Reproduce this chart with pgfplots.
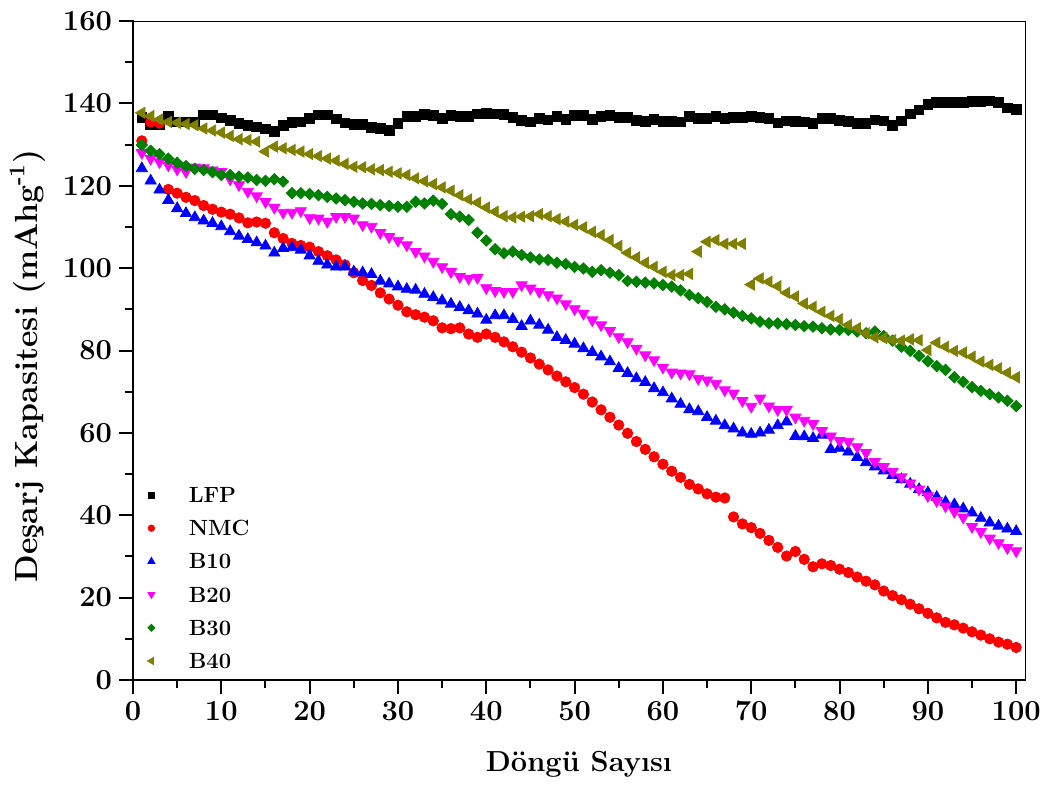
\documentclass[border=0pt]{standalone}
\usepackage{fontspec}
\usepackage{pgfplots}
\usepackage{pgfplotstable}
\pgfplotsset{compat=1.18}

\definecolor{cgreen}{RGB}{0,128,0}
\definecolor{colive}{RGB}{128,128,0}
\definecolor{cmag}{RGB}{255,0,255}
\definecolor{cred}{RGB}{255,0,0}
\definecolor{cblue}{RGB}{0,0,255}

% discharge capacity vs cycle number
\pgfplotstableread{
x   lfp   nmc   b10   b20   b30   b40
1   136.6 130.9 124.2 128.0 129.9 137.7
2   134.9 135.5 121.2 126.6 128.5 136.9
3   134.9 135.2 119.0 125.8 127.7 136.1
4   136.8 119.1 116.5 125.0 126.6 135.5
5   135.5 118.2 114.5 124.0 125.6 135.3
6   135.5 117.2 113.3 123.4 124.8 135.0
7   135.5 116.4 112.3 124.5 124.1 134.7
8   137.2 115.2 111.5 124.3 123.8 133.9
9   137.2 114.3 110.9 123.8 123.3 133.4
10  136.5 113.6 110.1 123.4 122.6 132.9
11  135.8 113.1 108.9 121.6 122.6 132.1
12  135.1 112.2 107.8 120.2 122.2 131.3
13  134.7 111.0 107.0 118.6 122.0 131.1
14  134.3 111.2 106.2 117.5 121.4 130.7
15  133.8 110.9 105.4 116.1 121.2 128.3
16  133.2 108.6 103.7 114.7 121.6 129.5
17  134.7 107.2 104.8 113.5 121.0 129.1
18  135.4 106.0 105.0 113.5 118.2 128.7
19  135.5 105.5 104.4 113.9 118.2 128.3
20  136.3 105.1 103.0 112.2 118.0 127.7
21  137.2 104.0 101.7 112.1 117.7 127.2
22  137.2 103.0 100.8 111.3 117.3 126.6
23  136.2 102.0 100.3 112.5 116.9 126.1
24  135.3 100.8 100.3 112.5 116.5 125.3
25  134.9 98.9  99.1  112.1 116.1 124.6
26  134.9 97.0  98.9  110.5 115.7 124.5
27  134.2 95.8  98.5  110.1 115.6 124.0
28  133.9 94.0  96.9  108.6 115.3 123.8
29  133.5 92.5  96.2  107.6 115.1 123.4
30  135.1 91.0  95.5  106.7 114.9 123.0
31  136.8 89.4  94.9  105.6 114.9 122.6
32  136.8 88.7  94.7  104.0 116.1 121.8
33  137.3 88.1  93.7  102.9 115.7 121.1
34  137.1 87.2  92.9  101.6 116.4 120.4
35  136.3 85.5  92.1  100.3 115.6 119.6
36  137.1 85.3  91.3  99.1  113.1 118.8
37  136.8 85.5  90.5  97.9  112.5 117.7
38  136.8 84.0  89.7  97.5  111.7 116.7
39  137.4 83.2  88.9  97.7  108.6 115.9
40  137.6 84.0  87.4  95.2  106.7 114.7
41  137.4 83.2  88.5  94.5  104.6 113.7
42  137.3 82.1  88.5  94.3  103.6 112.6
43  136.6 80.9  87.6  94.3  104.0 112.3
44  135.8 79.6  85.9  95.9  103.2 112.5
45  135.5 78.2  87.2  95.1  102.6 112.6
46  136.3 76.7  86.2  94.3  102.1 113.1
47  136.0 75.3  85.0  93.5  102.0 112.6
48  136.8 73.8  83.2  92.7  101.3 111.9
49  136.1 72.4  82.5  91.3  101.0 111.3
50  137.1 71.0  81.6  90.1  100.3 110.5
51  137.1 69.4  80.5  89.0  99.9  109.9
52  136.1 67.5  79.6  87.4  99.1  108.8
53  136.8 65.6  78.5  86.2  99.5  108.0
54  137.1 63.8  77.3  84.8  98.9  106.8
55  136.6 61.9  75.7  83.3  98.3  105.4
56  136.6 59.9  74.5  82.1  96.9  103.7
57  135.8 57.9  73.2  80.5  96.7  102.6
58  135.6 56.0  72.3  78.9  96.5  101.3
59  136.1 54.2  70.8  77.7  96.3  100.3
60  135.6 52.4  69.8  75.9  95.9  99.1
61  135.6 50.7  68.3  74.7  95.5  98.3
62  135.5 49.2  67.0  74.5  94.6  98.3
63  136.8 47.5  65.7  74.3  93.5  98.6
64  136.4 46.4  65.2  73.2  92.7  104.0
65  136.4 45.2  63.8  72.8  91.8  106.4
66  136.8 44.4  62.9  72.0  90.6  106.8
67  136.3 44.2  61.8  70.4  90.0  105.9
68  136.6 39.6  61.0  69.6  89.2  105.9
69  136.6 37.9  60.0  67.8  88.4  105.9
70  136.9 37.0  59.7  66.4  87.8  96.0
71  136.6 35.6  60.0  68.4  87.0  97.5
72  136.3 33.9  60.7  66.5  86.6  96.7
73  135.3 32.2  61.8  65.6  86.6  95.6
74  135.7 30.1  62.7  65.6  86.4  94.0
75  135.6 31.2  59.2  63.8  86.2  93.1
76  135.5 29.3  59.1  63.0  85.9  91.4
77  135.2 27.5  58.7  62.2  85.8  90.6
78  136.3 28.2  59.5  60.5  85.4  89.4
79  136.3 27.8  56.0  59.2  85.1  88.4
80  135.8 26.9  56.3  58.1  85.0  87.6
81  135.6 26.1  55.4  57.9  85.0  86.2
82  135.2 25.0  54.1  56.6  84.6  85.4
83  135.2 24.0  52.8  55.2  84.2  84.2
84  136.0 23.1  51.8  53.0  84.6  83.2
85  135.7 21.6  50.8  51.8  83.5  83.0
86  134.7 20.5  49.7  50.6  82.4  82.5
87  135.7 19.5  48.7  49.3  80.9  82.4
88  137.4 18.4  47.6  47.8  79.9  82.7
89  138.4 17.3  46.3  46.3  78.7  82.5
90  139.8 16.2  45.5  44.7  77.4  80.1
91  140.2 15.1  44.4  43.5  76.2  81.9
92  140.3 14.0  43.2  42.2  75.3  80.9
93  140.3 13.4  42.6  40.9  73.5  79.9
94  140.3 12.6  41.6  39.5  72.4  79.5
95  140.5 11.7  40.6  37.2  71.1  78.5
96  140.5 10.9  39.3  36.0  70.2  77.3
97  140.6 10.0  38.2  34.4  69.4  76.5
98  140.2 9.2   37.4  33.3  68.6  75.7
99  138.9 8.7   36.7  32.1  67.8  74.6
100 138.5 7.9   36.1  31.3  66.5  73.5
}\capdata

\begin{document}
\begin{tikzpicture}
\path[use as bounding box] (-66.5pt,-52pt) rectangle (455pt,340pt);
\begin{axis}[
    at={(0pt,0pt)}, anchor=south west,
    scale only axis,
    width=446pt, height=329.5pt,
    xmin=0, xmax=101,
    ymin=0, ymax=160,
    xtick={0,10,...,100},
    ytick={0,20,...,160},
    minor tick num=1,
    tick align=outside,
    xtick pos=left, ytick pos=left,
    major tick length=7pt, minor tick length=4pt,
    tick style={black, line width=1pt},
    axis line style={line width=0.5pt},
    /pgf/number format/assume math mode=true,
    tick label style={font=\bfseries\fontsize{14.5}{17}\selectfont},
    xlabel={Döngü Sayısı},
    ylabel={Deşarj Kapasitesi (mAhg\textsuperscript{-1})},
    xlabel style={at={(rel axis cs:0.5,-0.1381)}, anchor=base,
        font=\bfseries\fontsize{14.5}{17}\selectfont},
    ylabel style={at={(rel axis cs:-0.1076,0.4765)}, anchor=base,
        font=\bfseries\fontsize{16}{19}\selectfont},
    legend style={draw=none, fill=none, inner sep=0pt, outer sep=0pt,
        at={(0.0112,0.2923)}, anchor=north west,
        font=\bfseries\fontsize{11}{13}\selectfont,
        row sep=9pt, column sep=14.5pt,
        nodes={inner sep=0pt, text height=7.6pt, text depth=0pt}},
    legend cell align=left,
    legend image code/.code={
        \path (-4pt,0pt) (4pt,0pt);
        \draw[#1, every mark/.append style={scale=0.62}] plot coordinates {(0pt,0pt)};
    },
    after end axis/.code={
        \draw[line width=1pt, line cap=rect]
            (rel axis cs:0,1) -- (rel axis cs:0,0) -- (rel axis cs:1,0);
    },
]

\addplot[only marks, black, mark=square*, mark size=2.4pt]
    table[x=x, y=lfp] {\capdata};
\addplot[only marks, cred, mark=*, mark size=2.6pt]
    table[x=x, y=nmc] {\capdata};
\addplot[only marks, cblue, mark=triangle*, mark size=3.2pt]
    table[x=x, y=b10] {\capdata};
\addplot[only marks, cmag, mark=triangle*, mark size=3.2pt, mark options={rotate=180}]
    table[x=x, y=b20] {\capdata};
\addplot[only marks, cgreen, mark=square*, mark size=2.0pt, mark options={rotate=45}]
    table[x=x, y=b30] {\capdata};
\addplot[only marks, colive, mark=triangle*, mark size=3.2pt, mark options={rotate=90}]
    table[x=x, y=b40] {\capdata};

\legend{LFP, NMC, B10, B20, B30, B40}
\end{axis}
\end{tikzpicture}
\end{document}
